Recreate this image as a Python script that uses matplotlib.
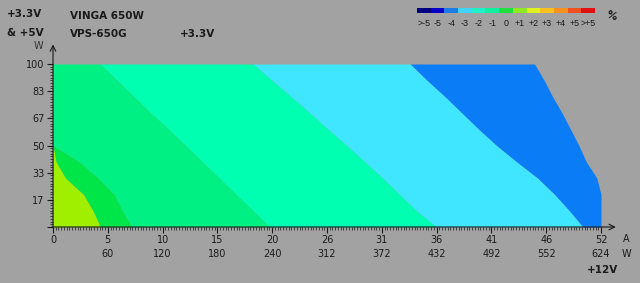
import numpy as np
import matplotlib
matplotlib.use('Agg')
import matplotlib.pyplot as plt
from matplotlib.ticker import MultipleLocator

# load levels on +3.3V & +5V (W) where the boundaries were read
load_w = [0, 10, 20, 30, 40, 50, 60, 70, 80, 90, 100]

# +12V current (A) of each deviation boundary at the loads above
edge_p1_0 = [4.5, 3.8, 2.9, 1.2, 0.3, 0.0, 0.0, 0.0, 0.0, 0.0, 0.0]
edge_0_m1 = [7.5, 6.6, 5.8, 4.3, 2.5, 0.0, 0.0, 0.0, 0.0, 0.0, 0.0]
edge_m1_m2 = [20.6, 19.0, 17.4, 15.8, 14.2, 12.6, 11.0, 9.3, 7.7, 6.1, 4.5]
edge_m2_m3 = [36.4, 34.5, 32.9, 31.3, 29.6, 27.9, 26.1, 24.4, 22.6, 20.8, 19.0]
edge_m3_m4 = [50.3, 49.0, 47.6, 46.0, 44.0, 42.1, 40.4, 38.8, 37.2, 35.5, 33.9]
edge_limit = [52.0, 52.0, 52.0, 51.6, 50.6, 49.9, 49.1, 48.3, 47.4, 46.6, 45.7]

band_colors = ['#a0ee00', '#00e648', '#00f084', '#00ffb0', '#40e6ff', '#0a7cf5']

x_labels = ['0', '5', '10', '15', '20', '26', '31', '36', '41', '46', '52']
w_labels = ['', '60', '120', '180', '240', '312', '372', '432', '492', '552', '624']
y_ticks = [0, 100/6, 200/6, 50, 400/6, 500/6, 100]
y_labels = ['', '17', '33', '50', '67', '83', '100']

scale_labels = ['>-5', '-5', '-4', '-3', '-2', '-1', '0', '+1', '+2', '+3', '+4', '+5', '>+5']
scale_colors = ['#000080', '#0000c8', '#1e7ce6', '#40d4ff', '#20f0c8', '#10f0a0', '#20e040',
                '#90e820', '#e0f020', '#f8c020', '#f89020', '#f05020', '#e01010']

bg = '#a2a2a2'
txt = '#1a1a1a'
plt.rcParams['font.family'] = ['DejaVu Sans']

fig = plt.figure(figsize=(6.4, 2.83), dpi=100, facecolor=bg)
ax = fig.add_axes([53/640, 56/283, 548/640, 163/283], facecolor=bg)

left = np.zeros(len(load_w))
edges = [edge_p1_0, edge_0_m1, edge_m1_m2, edge_m2_m3, edge_m3_m4, edge_limit]
for e, c in zip(edges, band_colors):
    ax.fill_betweenx(load_w, left, e, color=c, lw=0)
    left = e

ax.set_xlim(0, 52)
ax.set_ylim(0, 100)
ax.set_xticks(np.linspace(0, 52, 11))
ax.set_xticklabels([a + '\n' + w for a, w in zip(x_labels, w_labels)], linespacing=1.4)
ax.set_yticks(y_ticks)
ax.set_yticklabels(y_labels)
ax.xaxis.set_minor_locator(MultipleLocator(0.26))
ax.yaxis.set_minor_locator(MultipleLocator(100/60))
ax.tick_params(which='major', length=4, width=0.8, colors=txt, labelsize=7, pad=2)
ax.tick_params(which='minor', length=2, width=0.5, colors=txt)
for s in ['top', 'right', 'left', 'bottom']:
    ax.spines[s].set_visible(False)

# axis arrows
ax.annotate('', xy=(1.027, 0), xytext=(-0.002, 0), xycoords='axes fraction',
            arrowprops=dict(arrowstyle='->', lw=0.8, color=txt, shrinkA=0, shrinkB=0))
ax.annotate('', xy=(0, 1.12), xytext=(0, -0.005), xycoords='axes fraction',
            arrowprops=dict(arrowstyle='->', lw=0.8, color=txt, shrinkA=0, shrinkB=0))

# header texts
def px(x, y, s, **kw):
    kw.setdefault('color', txt)
    fig.text(x/640, 1 - y/283, s, va='center', **kw)

px(7, 14, '+3.3V', fontsize=7.5, weight='bold')
px(7, 33, '& +5V', fontsize=7.5, weight='bold')
px(70, 16, 'VINGA 650W', fontsize=7.5, weight='bold')
px(70, 34, 'VPS-650G', fontsize=7.5, weight='bold')
px(180, 34, '+3.3V', fontsize=7.5, weight='bold')
px(38, 46, 'W', fontsize=7, ha='center', color='#333333')
px(626, 239, 'A', fontsize=7, ha='center')
px(626, 254, 'W', fontsize=7, ha='center')
px(603, 270, '+12V', fontsize=7.5, weight='bold', ha='center')
px(612, 16, '%', fontsize=7.5, weight='bold', ha='center', rotation=-20)

# colour scale
cax = fig.add_axes([417/640, 1 - 13/283, 178/640, 5/283])
cax.bar(np.arange(len(scale_colors)), 1, width=1.0, color=scale_colors, lw=0)
cax.set_xlim(-0.5, len(scale_colors) - 0.5)
cax.set_ylim(0, 1)
cax.axis('off')
for i, lab in enumerate(scale_labels):
    x = 417 + (i + 0.5) * 178 / len(scale_labels)
    px(x, 23, lab, fontsize=6.4, ha='center', family='Liberation Sans')

fig.savefig('out.png', dpi=100, facecolor=bg)
